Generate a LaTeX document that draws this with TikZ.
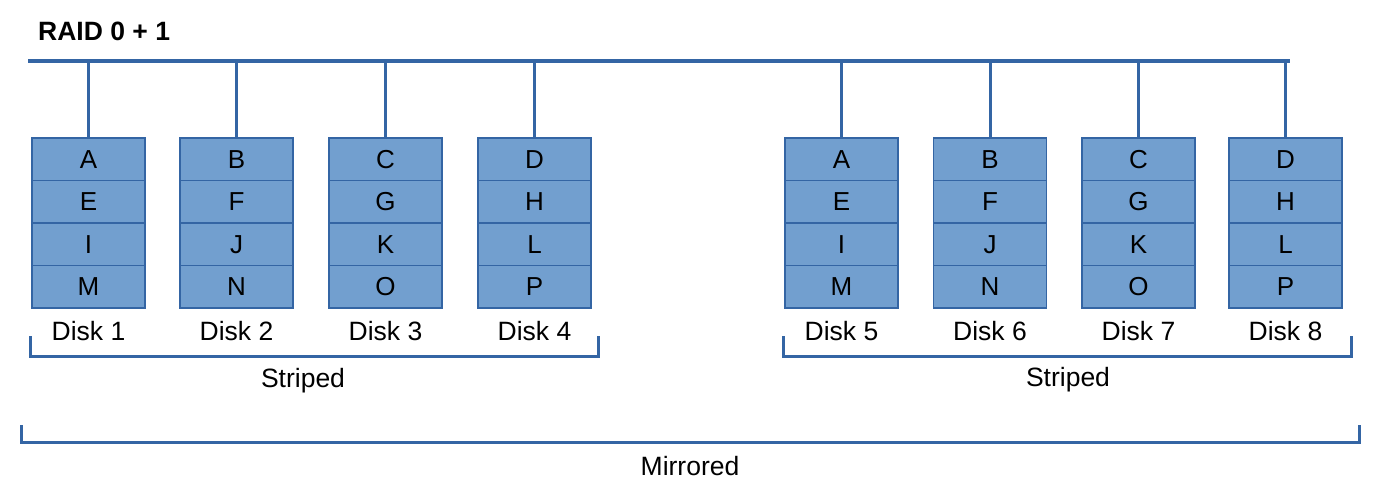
\documentclass[tikz,border=0pt]{standalone}
\usepackage{fontspec}
\setmainfont{Liberation Sans}
\usetikzlibrary{positioning}
\definecolor{cellfill}{RGB}{114,159,207}
\definecolor{linecol}{RGB}{52,101,164}

\begin{document}
\begin{tikzpicture}
    [x=1pt,y=-1pt,
     cell/.style={draw=linecol,fill=cellfill,line width=1.2pt,minimum width=113pt,
                  minimum height=42.5pt,inner sep=0pt,font=\fontsize{26}{31}\selectfont},
     txt/.style={inner sep=0pt,font=\fontsize{26.5}{31}\selectfont},
     link/.style={draw=linecol,line width=3pt},
     bus/.style={draw=linecol,line width=4.5pt},
     bracket/.style={draw=linecol,line width=3pt}]
    \useasboundingbox (0,0) rectangle (1381,495);

    \node[txt,anchor=west,font=\fontsize{26.5}{31}\selectfont\bfseries] (title) at (38,31) {RAID 0 + 1};

    % bus
    \coordinate (busL) at (28,61);
    \coordinate (busR) at (1290,61);
    \draw[bus] (busL) -- (busR);

    % disks
    \foreach \d/\x/\l in {1/88.5/{A,E,I,M},2/236.5/{B,F,J,N},3/385.5/{C,G,K,O},4/534.5/{D,H,L,P},
                          5/841.5/{A,E,I,M},6/990/{B,F,J,N},7/1138.5/{C,G,K,O},8/1285.5/{D,H,L,P}} {
        \foreach \c [count=\r] in \l {
            \node[cell] (d\d c\r) at (\x,{138+21.25+42.5*(\r-1)}) {\c};
        }
        \node[txt] (disk\d) at (\x,331) {Disk \d};
        \draw[link] (d\d c1.north) -- (d\d c1.north |- busL);
    }

    % striped groups
    \draw[bracket] (30,336) -- (30,356) -- (598,356) -- (598,336);
    \node[txt] (striped1) at (303,381) {Striped};
    \draw[bracket] (783,336) -- (783,356) -- (1351,356) -- (1351,336);
    \node[txt] (striped2) at (1068,380) {Striped};

    % mirror
    \draw[bracket] (21,425) -- (21,442) -- (1359,442) -- (1359,425);
    \node[txt] (mirrored) at (690,466) {Mirrored};
\end{tikzpicture}
\end{document}
